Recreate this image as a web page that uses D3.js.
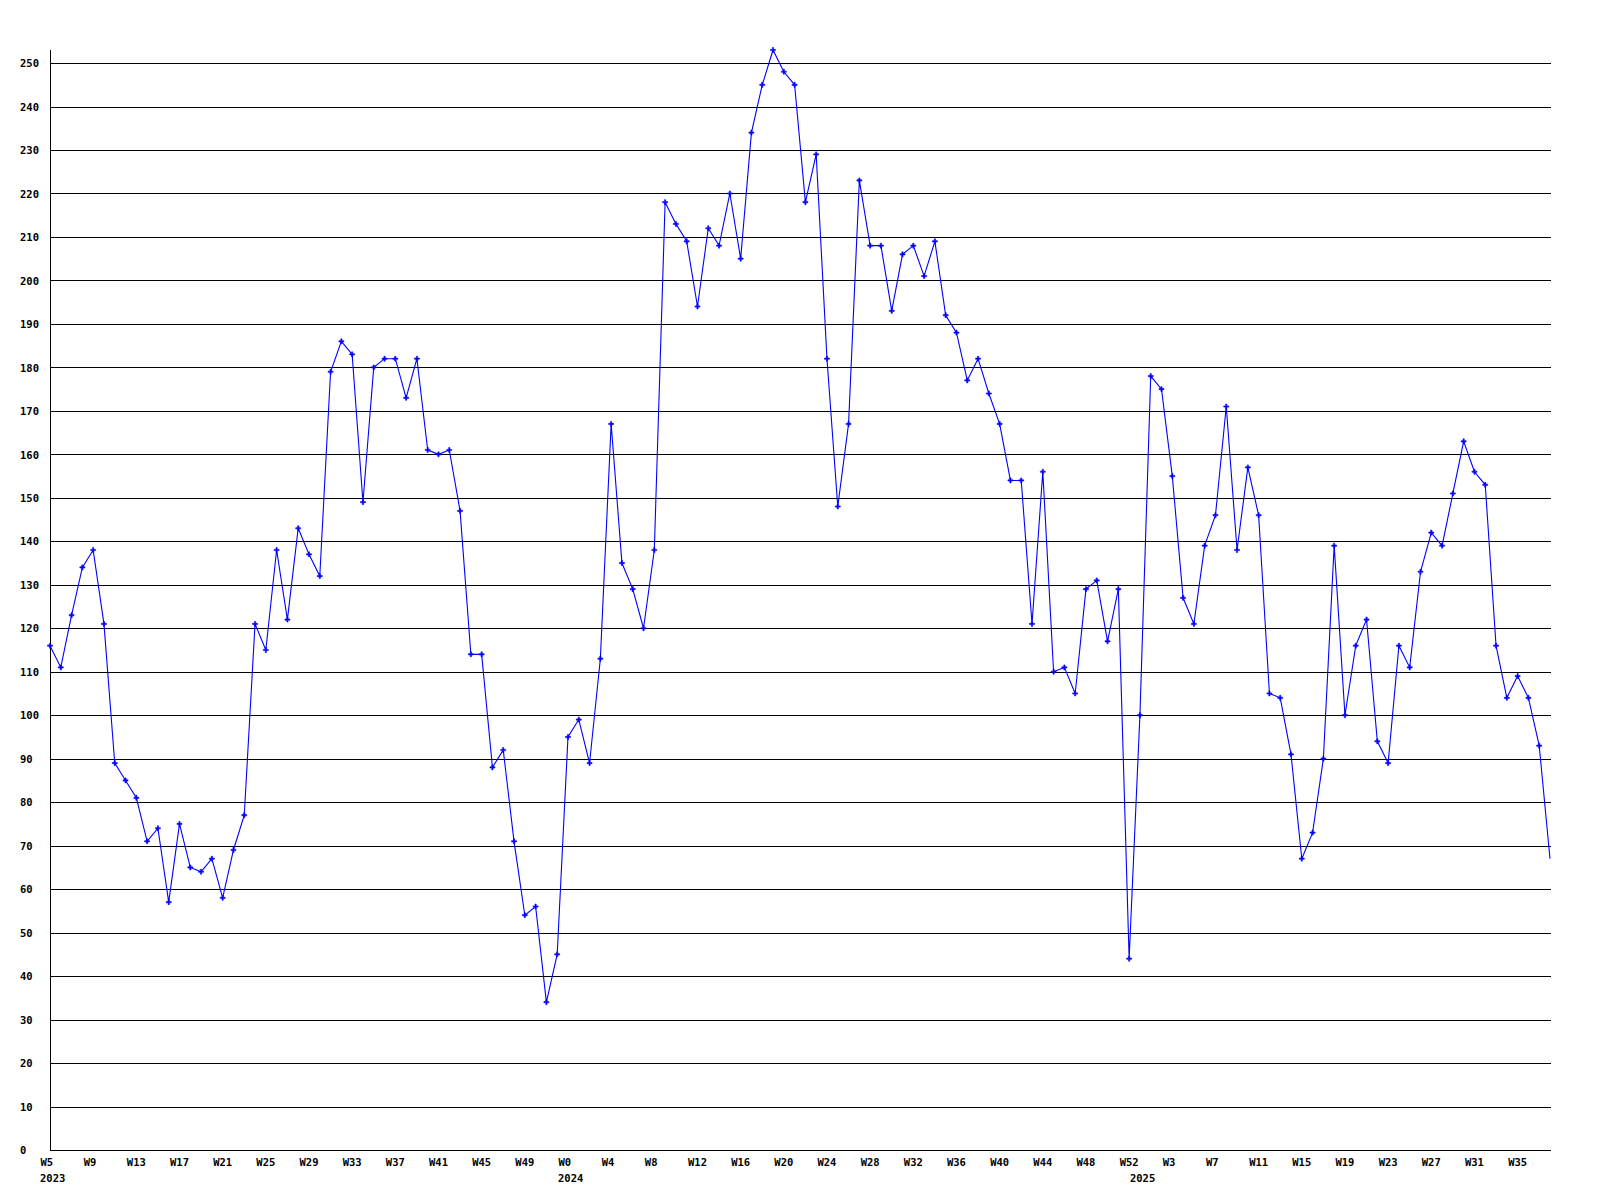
<!DOCTYPE html>
<html>
<head>
<meta charset="utf-8">
<script src="https://cdn.jsdelivr.net/npm/d3@7"></script>
<style>
  html, body { margin: 0; padding: 0; background: #ffffff; }
  svg { display: block; }
  text { font-family: "DejaVu Sans Mono", "Liberation Mono", monospace; font-weight: bold; font-size: 10.5px; fill: #000; }
</style>
</head>
<body>
<svg id="chart" width="1600" height="1200"></svg>
<script>
// ---- data ----
const years = [2023, 2024, 2025];
const firstWeek = [5, 0, 0];
const lastWeek = [52, 52, 38];
const values = [
  116,111,123,134,138,121,89,85,81,71,
  74,57,75,65,64,67,58,69,77,121,
  115,138,122,143,137,132,179,186,183,149,
  180,182,182,173,182,161,160,161,147,114,
  114,88,92,71,54,56,34,45,95,99,
  89,113,167,135,129,120,138,218,213,209,
  194,212,208,220,205,234,245,253,248,245,
  218,229,182,148,167,223,208,208,193,206,
  208,201,209,192,188,177,182,174,167,154,
  154,121,156,110,111,105,129,131,117,129,
  44,100,178,175,155,127,121,139,146,171,
  138,157,146,105,104,91,67,73,90,139,
  100,116,122,94,89,116,111,133,142,139,
  151,163,156,153,116,104,109,104,93,67
];
const yTickValues = d3.range(0, 251, 10);

// categories (week labels) and year starts
const categories = [];
const yearStart = [];
years.forEach((yr, k) => {
  yearStart.push({ index: categories.length, label: String(yr) });
  for (let w = firstWeek[k]; w <= lastWeek[k]; w++) categories.push("W" + w);
});
const tickIdx = d3.range(0, categories.length, 4);

// ---- layout ----
const mLeft = 50, mRight = 1550, mTop = 50, mBottom = 1150, gridRight = 1551;
const svg = d3.select("#chart");

const x = d3.scaleLinear().domain([0, values.length - 1]).range([mLeft, mRight]);
const y = d3.scaleLinear().domain([0, d3.max(values)]).range([mBottom, mTop]);

// horizontal grid + y labels
const yAxis = svg.append("g")
  .attr("transform", `translate(${mLeft},0)`)
  .call(d3.axisLeft(y).tickValues(yTickValues).tickSize(-(gridRight - mLeft)).tickFormat(d3.format("d")));
yAxis.select(".domain").remove();
yAxis.attr("font-family", null).attr("font-size", null);
yAxis.selectAll(".tick line").attr("stroke", "#000").attr("stroke-width", 1).attr("shape-rendering", "crispEdges");
yAxis.selectAll(".tick text")
  .attr("x", -30).attr("text-anchor", "start").attr("dy", "0.35em");

// y axis vertical line
svg.append("line")
  .attr("x1", mLeft).attr("x2", mLeft).attr("y1", mTop).attr("y2", mBottom)
  .attr("stroke", "#000").attr("shape-rendering", "crispEdges");

// x axis labels
const xAxis = svg.append("g")
  .attr("transform", `translate(0,${mBottom})`)
  .call(d3.axisBottom(x).tickValues(tickIdx).tickSize(0).tickPadding(0).tickFormat(i => categories[i]));
xAxis.select(".domain").remove();
xAxis.attr("font-family", null).attr("font-size", null);
xAxis.selectAll(".tick text").attr("text-anchor", "start").attr("x", -10).attr("y", 16).attr("dy", null);

// year labels
svg.append("g").selectAll("text").data(yearStart).join("text")
  .attr("x", d => x(d.index) - 10)
  .attr("y", mBottom + 32)
  .text(d => d.label);

// line
svg.append("defs").append("clipPath").attr("id", "plot")
  .append("rect").attr("x", mLeft).attr("y", 0).attr("width", gridRight - mLeft).attr("height", mBottom);

const line = d3.line().x((d, i) => x(i)).y(d => y(d));
svg.append("path")
  .datum(values)
  .attr("d", line)
  .attr("fill", "none")
  .attr("stroke", "#0000ff")
  .attr("stroke-width", 1.1)
  .attr("clip-path", "url(#plot)");

// markers (all but the last, current week)
const marker = "M-2.5,-0.6H-0.6V-2.5H0.6V-0.6H2.5V0.6H0.6V2.5H-0.6V0.6H-2.5Z";
svg.append("g").selectAll("path").data(values.slice(0, -1)).join("path")
  .attr("transform", (d, i) => `translate(${x(i)},${y(d)})`)
  .attr("d", marker)
  .attr("fill", "#0000ff")
  .attr("stroke", "#0000ff")
  .attr("stroke-width", 0.6);
</script>
</body>
</html>
